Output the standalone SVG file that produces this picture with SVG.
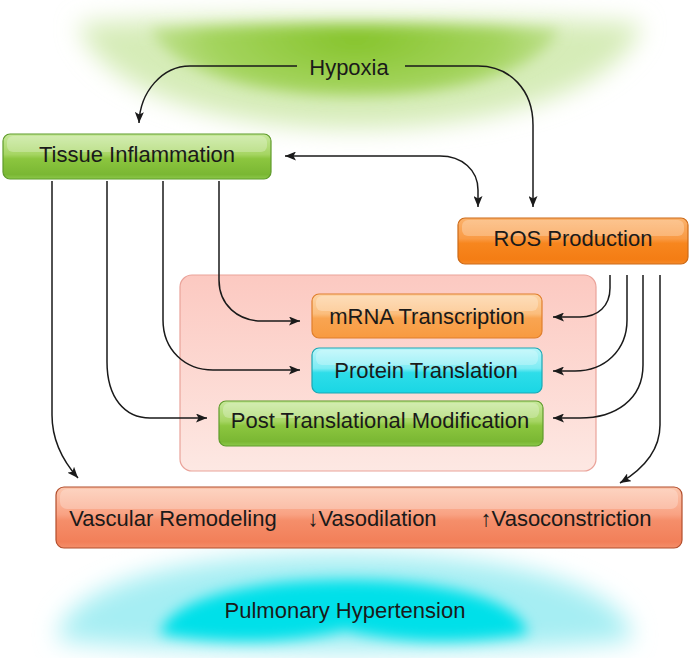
<svg xmlns="http://www.w3.org/2000/svg" width="697" height="658" viewBox="0 0 697 658">
<defs>
<style>
text{font-family:"Liberation Sans",Arial,sans-serif;font-size:22px;fill:#1a1a1a;text-anchor:middle}
.c{fill:none;stroke:#1a1a1a;stroke-width:1.5}
.hl{fill:#fff;opacity:0.25}
</style>
<marker id="ah" viewBox="0 0 11 9" refX="11" refY="4.5" markerWidth="11" markerHeight="9" markerUnits="userSpaceOnUse" orient="auto-start-reverse">
<path d="M0,0 L11,4.5 L0,9 L2.5,4.5 Z" fill="#1a1a1a"/>
</marker>
<filter id="b12" x="-30%" y="-60%" width="160%" height="220%"><feGaussianBlur stdDeviation="12"/></filter>
<filter id="b7" x="-30%" y="-60%" width="160%" height="220%"><feGaussianBlur stdDeviation="7"/></filter>
<linearGradient id="gGreen" x1="0" y1="0" x2="0" y2="1">
<stop offset="0" stop-color="#c6e89a"/><stop offset="0.45" stop-color="#a6d563"/><stop offset="0.55" stop-color="#8cc63f"/><stop offset="0.9" stop-color="#7ab733"/><stop offset="1" stop-color="#8cc84a"/>
</linearGradient>
<linearGradient id="gRos" x1="0" y1="0" x2="0" y2="1">
<stop offset="0" stop-color="#fbb26c"/><stop offset="0.45" stop-color="#f99a44"/><stop offset="0.55" stop-color="#f7861e"/><stop offset="0.9" stop-color="#f47d14"/><stop offset="1" stop-color="#f68b2a"/>
</linearGradient>
<linearGradient id="gMrna" x1="0" y1="0" x2="0" y2="1">
<stop offset="0" stop-color="#fdd3a4"/><stop offset="0.45" stop-color="#fbbd7c"/><stop offset="0.55" stop-color="#f9a552"/><stop offset="1" stop-color="#f89a40"/>
</linearGradient>
<linearGradient id="gProt" x1="0" y1="0" x2="0" y2="1">
<stop offset="0" stop-color="#b8f6fa"/><stop offset="0.45" stop-color="#7eecf4"/><stop offset="0.55" stop-color="#2edde9"/><stop offset="1" stop-color="#1ad6e4"/>
</linearGradient>
<linearGradient id="gVasc" x1="0" y1="0" x2="0" y2="1">
<stop offset="0" stop-color="#fcc6ad"/><stop offset="0.45" stop-color="#f9a283"/><stop offset="0.55" stop-color="#f58e6a"/><stop offset="0.9" stop-color="#f27f59"/><stop offset="1" stop-color="#f48e6a"/>
</linearGradient>
<linearGradient id="gPink" x1="0" y1="0" x2="0" y2="1">
<stop offset="0" stop-color="#fcc9c1"/><stop offset="1" stop-color="#fde8e3"/>
</linearGradient>
<radialGradient id="gGlowG" cx="355" cy="40" r="290" gradientUnits="userSpaceOnUse" gradientTransform="translate(355 40) scale(1 0.35) translate(-355 -40)">
<stop offset="0" stop-color="#86c42c"/><stop offset="0.5" stop-color="#a4d45e"/><stop offset="1" stop-color="#e6f3d6"/>
</radialGradient>
</defs>

<g id="hypoxia-glow">
<path d="M78,24 C200,14 500,14 642,24 C618,95 480,128 355,128 C230,128 102,95 78,24 Z" fill="#d6ecb8" filter="url(#b12)"/>
<path d="M150,30 C260,22 450,22 560,30 C530,80 440,96 355,96 C270,96 180,80 150,30 Z" fill="url(#gGlowG)" filter="url(#b7)"/>
</g>

<g id="ph-glow">
<path d="M58,640 C60,596 150,554 345,554 C540,554 630,596 632,640 C500,656 200,656 58,640 Z" fill="#a6eef3" filter="url(#b12)"/>
<path d="M160,634 C170,598 250,580 345,580 C440,580 520,598 528,634 C470,644 400,644 345,630 C290,644 220,644 160,634 Z" fill="#00e0e9" filter="url(#b7)"/>
</g>

<g id="container">
<rect x="180" y="275" width="416" height="196" rx="12" fill="url(#gPink)" stroke="#eaa39a" stroke-width="1.2"/>
</g>

<g id="connectors">
<path class="c" d="M297,66 H190 C162,66 140,92 139,123" marker-end="url(#ah)"/>
<path class="c" d="M405,66 H478 C510,66 533,90 533,125 V207" marker-end="url(#ah)"/>
<path class="c" d="M285,156 H440 C462,156 478,170 478,190 V207" marker-start="url(#ah)" marker-end="url(#ah)"/>
<path class="c" d="M219,181 V280 C219,305 238,321 262,321 H300" marker-end="url(#ah)"/>
<path class="c" d="M163,181 V320 C163,350 185,370 213,370 H300" marker-end="url(#ah)"/>
<path class="c" d="M107,181 V362 C107,398 125,418 150,418 H207" marker-end="url(#ah)"/>
<path class="c" d="M52,181 V415 C52,440 62,460 78,478" marker-end="url(#ah)"/>
<path class="c" d="M610,275 V288 C610,306 598,317 580,317 H553" marker-end="url(#ah)"/>
<path class="c" d="M627,275 V320 C627,350 605,371 575,371 H553" marker-end="url(#ah)"/>
<path class="c" d="M643,275 V365 C643,400 615,418 580,418 H553" marker-end="url(#ah)"/>
<path class="c" d="M660,275 V425 C660,450 645,468 620,483" marker-end="url(#ah)"/>
</g>

<g id="hypoxia"><text x="349" y="75">Hypoxia</text></g>

<g id="tissue-inflammation">
<rect x="3" y="134" width="268" height="45" rx="7" fill="url(#gGreen)" stroke="#5f9b2b" stroke-width="1.2"/>
<rect x="7" y="136" width="260" height="16" rx="6" class="hl"/>
<text x="137" y="162">Tissue Inflammation</text>
</g>

<g id="ros-production">
<rect x="458" y="218" width="230" height="46" rx="7" fill="url(#gRos)" stroke="#cc6a18" stroke-width="1.2"/>
<rect x="462" y="220" width="222" height="16" rx="6" class="hl"/>
<text x="573" y="246">ROS Production</text>
</g>

<g id="mrna-transcription">
<rect x="312" y="294" width="230" height="44" rx="7" fill="url(#gMrna)" stroke="#e07f2c" stroke-width="1.2"/>
<rect x="316" y="296" width="222" height="15" rx="6" class="hl"/>
<text x="427" y="324">mRNA Transcription</text>
</g>

<g id="protein-translation">
<rect x="312" y="348" width="230" height="45" rx="7" fill="url(#gProt)" stroke="#1ba8b4" stroke-width="1.2"/>
<rect x="316" y="350" width="222" height="15" rx="6" class="hl"/>
<text x="426" y="378">Protein Translation</text>
</g>

<g id="post-translational-modification">
<rect x="219" y="401" width="324" height="45" rx="7" fill="url(#gGreen)" stroke="#5f9b2b" stroke-width="1.2"/>
<rect x="223" y="403" width="316" height="15" rx="6" class="hl"/>
<text x="380" y="428">Post Translational Modification</text>
</g>

<g id="vascular">
<rect x="56" y="487" width="626" height="61" rx="8" fill="url(#gVasc)" stroke="#b24e2c" stroke-width="1.2"/>
<rect x="60" y="489" width="618" height="20" rx="7" class="hl"/>
<text x="173" y="526">Vascular Remodeling</text>
<text x="372" y="526">↓Vasodilation</text>
<text x="566" y="526">↑Vasoconstriction</text>
</g>

<g id="pulmonary-hypertension"><text x="345" y="618">Pulmonary Hypertension</text></g>
</svg>
